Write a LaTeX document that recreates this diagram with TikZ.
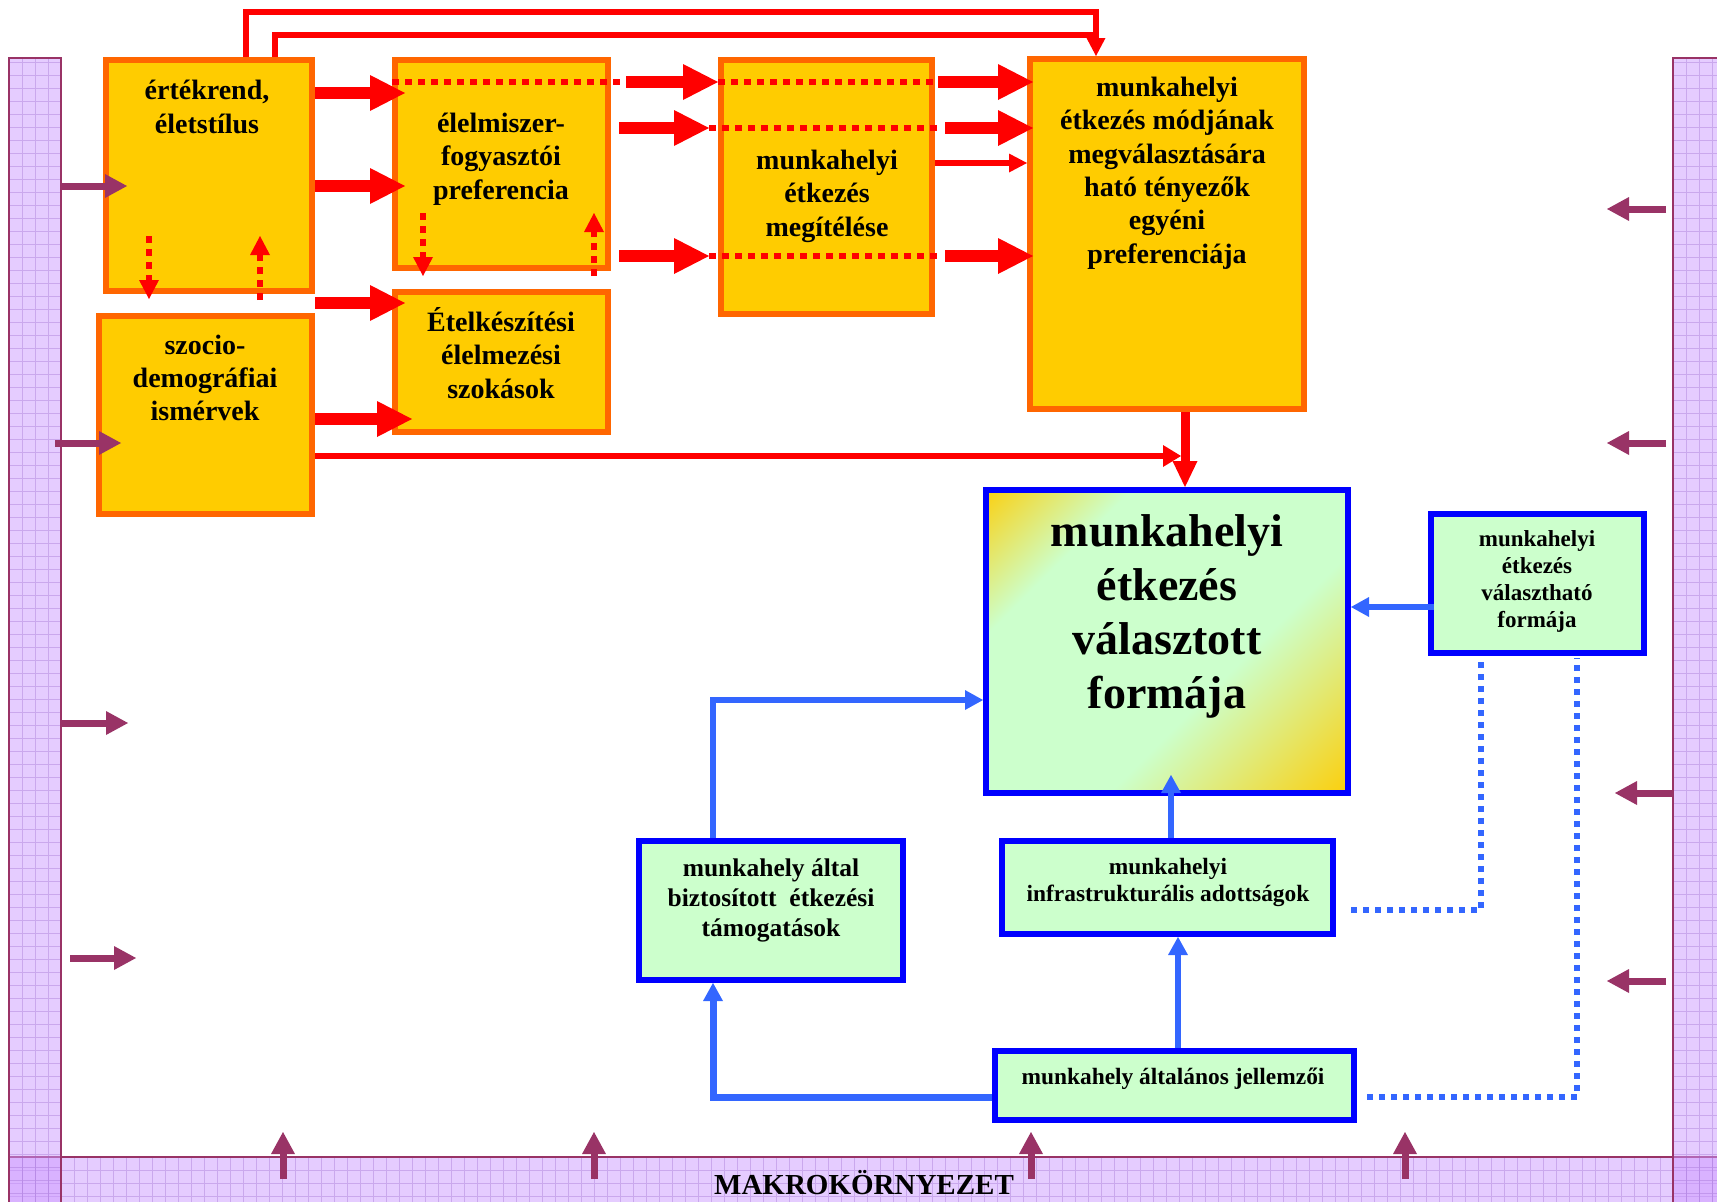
\documentclass[tikz,border=0pt]{standalone}
\usepackage{fontspec}
\setmainfont{Liberation Serif}
\usetikzlibrary{arrows.meta,calc}

\definecolor{oframe}{HTML}{FF6600}
\definecolor{ofill}{HTML}{FFCC00}
\definecolor{gfill}{HTML}{CCFFCC}
\definecolor{bframe}{HTML}{0000FF}
\definecolor{bline}{HTML}{3366FF}
\definecolor{purp}{HTML}{993366}
\definecolor{barviolet}{HTML}{CC99FF}
\definecolor{gridviolet}{HTML}{9966CC}

\pgfdeclarehorizontalshading{gyg}{100bp}{color(0bp)=(ofill); color(13bp)=(ofill); color(30bp)=(gfill); color(60bp)=(gfill); color(87bp)=(ofill); color(100bp)=(ofill)}

\begin{document}
\begin{tikzpicture}[x=1pt, y=-1pt,
  obox/.style={draw=oframe, fill=ofill, line width=6pt, inner sep=0pt},
  gbox/.style={draw=bframe, fill=gfill, line width=6pt, inner sep=0pt},
  bar/.style={draw=purp, line width=2pt, fill=barviolet, fill opacity=.5, inner sep=0pt,
    path picture={\draw[barline] (path picture bounding box.south west) grid[step=13pt] (path picture bounding box.north east);}},
  barline/.style={draw=gridviolet, line width=.7pt, opacity=.35},
  otxt/.style={align=center, inner sep=0pt, font=\fontsize{28}{33.4}\selectfont\bfseries},
  gtxt/.style={align=center, inner sep=0pt, font=\fontsize{46}{54}\selectfont\bfseries},
  htxt/.style={align=center, inner sep=0pt, font=\fontsize{23}{27}\selectfont\bfseries},
  itxt/.style={align=center, inner sep=0pt, font=\fontsize{25.5}{30}\selectfont\bfseries},
  jtxt/.style={align=center, inner sep=0pt, font=\fontsize{23.4}{27}\selectfont\bfseries},
  fat/.style={draw=red, line width=12pt, -{Triangle[length=35pt,width=36pt,line width=0pt]}},
  fatv/.style={draw=red, line width=9pt, -{Triangle[length=26pt,width=25pt,line width=0pt]}},
  rline/.style={draw=red, line width=6pt},
  rarr/.style={rline, -{Triangle[length=18pt,width=19pt,line width=0pt]}},
  rdot/.style={draw=red, line width=6pt, dash pattern=on 7pt off 6pt},
  rdotarr/.style={rdot, -{Triangle[length=19pt,width=20pt,line width=0pt]}},
  blu/.style={draw=bline, line width=6pt, -{Triangle[length=18pt,width=20pt,line width=0pt]}},
  bludot/.style={draw=bline, line width=6pt, dash pattern=on 6pt off 6pt},
  purarr/.style={draw=purp, line width=7pt, -{Triangle[length=22pt,width=24pt,line width=0pt]}}
]
\useasboundingbox (0,0) rectangle (1717,1202);

% makrokornyezet
\node[bar, minimum width=1716pt, minimum height=53pt] (makro) at (867,1183.5) {};
\node[bar, minimum width=52pt, minimum height=1152pt] (bal) at (35,634) {};
\node[bar, minimum width=52pt, minimum height=1152pt] (jobb) at (1699,634) {};
\node[font=\fontsize{29}{34}\selectfont\bfseries, inner sep=0pt] (makroT) at (864,1183) {MAKROKÖRNYEZET};

% egyeni tenyezok
\node[obox, minimum width=206pt, minimum height=231pt] (ertek) at (209,175.5) {};
\node[obox, minimum width=213pt, minimum height=198pt] (szocio) at (205.5,415) {};
\node[obox, minimum width=213pt, minimum height=208pt] (pref) at (501.5,164) {};
\node[obox, minimum width=213pt, minimum height=140pt] (szokas) at (501.5,362) {};
\node[obox, minimum width=211pt, minimum height=254pt] (megit) at (826.5,187) {};
\node[obox, minimum width=274pt, minimum height=350pt] (tenyezo) at (1167,234) {};

\node[otxt] (ertekT) at (207,107) {értékrend,\\életstílus};
\node[otxt] (szocioT) at (205,378) {szocio-\\demográfiai\\ismérvek};
\node[otxt] (prefT) at (501,159) {élelmiszer-\\fogyasztói\\preferencia};
\node[otxt] (szokasT) at (501,353) {Ételkészítési\\élelmezési\\szokások};
\node[otxt] (megitT) at (827,196) {munkahelyi\\étkezés\\megítélése};
\node[otxt] (tenyezoT) at (1167,173) {munkahelyi\\étkezés módjának\\megválasztására\\ható tényezők\\egyéni\\preferenciája};

% munkahelyi tenyezok
\node[draw=bframe, line width=6pt, inner sep=0pt, shade, shading=gyg, shading angle=-45,
      minimum width=362pt, minimum height=303pt] (valasz) at (1167,641.5) {};
\node[gbox, minimum width=213pt, minimum height=139pt] (valaszthato) at (1537.5,583.5) {};
\node[gbox, minimum width=264pt, minimum height=139pt] (tamogat) at (771,910.5) {};
\node[gbox, minimum width=331pt, minimum height=93pt] (infra) at (1167.5,887.5) {};
\node[gbox, minimum width=359pt, minimum height=69pt] (jellemzo) at (1174.5,1085.5) {};

\node[gtxt] (valaszT) at (1167,616) {munkahelyi\\étkezés\\választott\\formája};
\node[htxt] (valaszthatoT) at (1537,581) {munkahelyi\\étkezés\\választható\\formája};
\node[itxt] (tamogatT) at (771,900) {munkahely által\\biztosított\ \ étkezési\\támogatások};
\node[jtxt] (infraT) at (1168,882) {munkahelyi\\infrastrukturális adottságok};
\node[jtxt] (jellemzoT) at (1173,1079) {munkahely általános jellemzői};

% piros kapcsolatok
\draw[rarr] (246,0 |- ertek.north) |- (1096,12) -- (1096,0 |- tenyezo.north);
\draw[rline] (275,0 |- ertek.north) |- (1096,35);

\draw[fat, shorten >=-13pt] (ertek.east |- 0,93) -- (pref.west |- 0,93);
\draw[fat, shorten >=-13pt] (ertek.east |- 0,186) -- (pref.west |- 0,186);
\draw[fat, shorten >=-13pt] (ertek.east |- 0,303) -- (szokas.west |- 0,303);
\draw[fat, shorten >=-20pt] (szocio.east |- 0,419) -- (szokas.west |- 0,419);

\draw[rdot, shorten >=-13pt] (pref.west |- 0,82) -- (pref.east |- 0,82);
\draw[fat, shorten <=15pt] (pref.east |- 0,82) -- (megit.west |- 0,82);
\draw[rdot] (megit.west |- 0,82) -- (megit.east |- 0,82);
\draw[fat, shorten <=3pt, shorten >=-6pt] (megit.east |- 0,82) -- (tenyezo.west |- 0,82);

\draw[fat, shorten <=8pt, shorten >=9pt] (pref.east |- 0,128) -- (megit.west |- 0,128);
\draw[rdot, shorten <=-9pt, shorten >=-8pt] (megit.west |- 0,128) -- (megit.east |- 0,128);
\draw[fat, shorten <=10pt, shorten >=-6pt] (megit.east |- 0,128) -- (tenyezo.west |- 0,128);

\draw[fat, shorten <=8pt, shorten >=9pt] (pref.east |- 0,256) -- (megit.west |- 0,256);
\draw[rdot, shorten <=-9pt, shorten >=-2pt] (megit.west |- 0,256) -- (megit.east |- 0,256);
\draw[fat, shorten <=10pt, shorten >=-6pt] (megit.east |- 0,256) -- (tenyezo.west |- 0,256);

\draw[rarr] (megit.east |- 0,163) -- (tenyezo.west |- 0,163);

\draw[rdotarr] ($(ertek.south -| 149,0)+(0,-58)$) -- ($(szocio.north -| 149,0)+(0,-14)$);
\draw[rdotarr] ($(szocio.north -| 260,0)+(0,-13)$) -- ($(ertek.south -| 260,0)+(0,-58)$);
\draw[rdotarr] ($(pref.south -| 423,0)+(0,-58)$) -- ($(szokas.north -| 423,0)+(0,-13)$);
\draw[rdotarr] ($(szokas.north -| 594,0)+(0,-13)$) -- ($(pref.south -| 594,0)+(0,-58)$);

\coordinate (fg) at (1185,0);
\draw[fatv] (tenyezo.south -| fg) -- (valasz.north -| fg);
\draw[rline, -{Triangle[length=18pt,width=22pt,line width=0pt]}, shorten >=4pt]
  (szocio.east |- 0,456) -- (fg |- 0,456);

% kek kapcsolatok
\draw[blu, shorten <=-6pt] (valaszthato.west |- 0,607) -- (valasz.east |- 0,607);
\draw[blu] (tamogat.north -| 713,0) |- (valasz.west |- 0,700);
\draw[blu, shorten >=-21pt] (infra.north -| 1171,0) -- (valasz.south -| 1171,0);
\draw[blu] (jellemzo.north -| 1178,0) -- (infra.south -| 1178,0);
\draw[blu, line width=7pt] (jellemzo.west |- 0,1097) -| (tamogat.south -| 713,0);
\draw[bludot, shorten <=15pt, shorten >=5pt] (infra.east |- 0,910) -| (valaszthato.south -| 1481,0);
\draw[bludot, shorten <=10pt, shorten >=2pt] (jellemzo.east |- 0,1097) -| (valaszthato.south -| 1577,0);

% kornyezeti hatasok
\draw[purarr] (bal.east |- 0,186) -- ++(65,0);
\draw[purarr, shorten <=-7pt] (bal.east |- 0,443) -- ++(59,0);
\draw[purarr] (bal.east |- 0,723) -- ++(66,0);
\draw[purarr, shorten <=8pt] (bal.east |- 0,958) -- ++(74,0);
\draw[purarr, shorten <=6pt] (jobb.west |- 0,209) -- ++(-65,0);
\draw[purarr, shorten <=6pt] (jobb.west |- 0,443) -- ++(-65,0);
\draw[purarr] (jobb.west |- 0,793) -- ++(-57,0);
\draw[purarr, shorten <=6pt] (jobb.west |- 0,981) -- ++(-65,0);
\foreach \x in {283,594,1031,1405}
  \draw[purarr, shorten <=-23pt] (makro.north -| \x,0) -- ++(0,-24);
\end{tikzpicture}
\end{document}
